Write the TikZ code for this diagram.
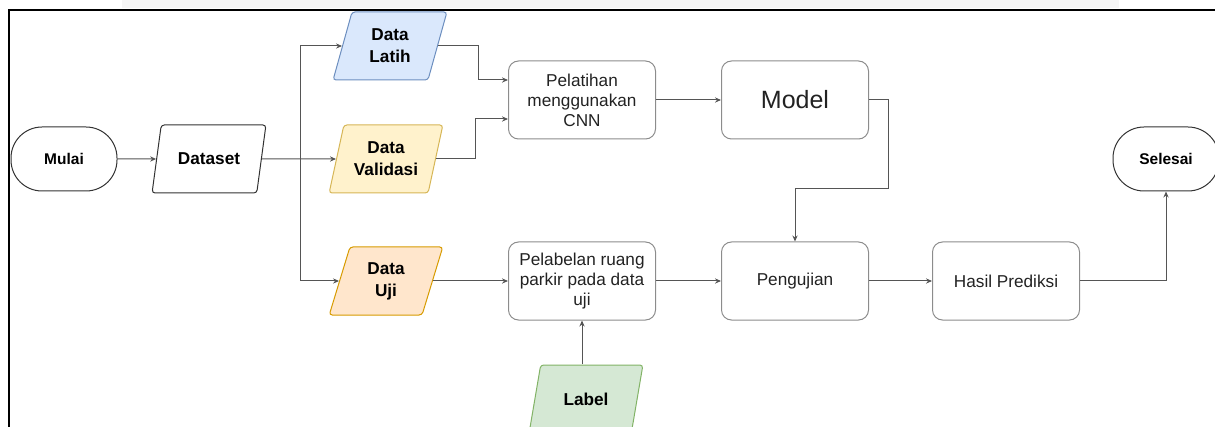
\documentclass[tikz,border=0pt]{standalone}
\usepackage{fontspec}
\setmainfont{Liberation Sans}
\usetikzlibrary{shapes.geometric,arrows.meta,calc}
\definecolor{lineg}{HTML}{555555}
\definecolor{boxg}{HTML}{8C8C8C}
\definecolor{txtg}{HTML}{222222}
\definecolor{bluef}{HTML}{DAE8FC}
\definecolor{blueb}{HTML}{6C8EBF}
\definecolor{yelf}{HTML}{FFF2CC}
\definecolor{yelb}{HTML}{D6B656}
\definecolor{oraf}{HTML}{FFE6CC}
\definecolor{orab}{HTML}{D79B00}
\definecolor{grnf}{HTML}{D5E8D4}
\definecolor{grnb}{HTML}{82B366}

\begin{document}
\begin{tikzpicture}[x=0.5pt,y=-0.5pt,
    >={Stealth[length=3pt,width=2.6pt]},
    conn/.style={draw=lineg,line width=0.5pt},
    term/.style={draw=black!80,line width=0.5pt,rounded corners=15.5pt,
        minimum width=53pt,minimum height=32pt,
        font=\fontsize{7.75}{9}\selectfont\bfseries},
    io/.style={trapezium,trapezium left angle=74,trapezium right angle=106,
        trapezium stretches=true,minimum width=57pt,minimum height=34pt,
        rounded corners=1.5pt,line width=0.5pt,align=center,
        font=\fontsize{8.6}{11}\selectfont\bfseries},
    proc/.style={draw=boxg,line width=0.5pt,rounded corners=5pt,
        minimum width=73.5pt,minimum height=39pt,align=center,text=txtg,
        font=\fontsize{8.6}{10}\selectfont}]
\useasboundingbox (0,0) rectangle (1215,427);
\fill[black!4] (122,0) rectangle (1119,8);
\draw[line width=1pt] (9,427) -- (9,10) -- (1215,10);

\node (mu) [term] at (64,159) {Mulai};
\node (ds) [io,draw=black!80] at (209,159) {Dataset};
\node (dl) [io,draw=blueb,fill=bluef] at (390,46) {Data\\Latih};
\node (dv) [io,draw=yelb,fill=yelf] at (386,159) {Data\\Validasi};
\node (du) [io,draw=orab,fill=oraf] at (386,281) {Data\\Uji};
\node (lb) [io,draw=grnb,fill=grnf] at (586,399) {Label};

\node (pl) [proc] at (582,100) {Pelatihan\\menggunakan\\CNN};
\node (md) [proc,font=\fontsize{12.5}{14}\selectfont] at (795,100) {Model};
\node (pb) [proc] at (582,281) {Pelabelan ruang\\parkir pada data\\uji};
\node (pg) [proc] at (795,281) {Pengujian};
\node (hp) [proc] at (1006,281) {Hasil Prediksi};
\node (sl) [term] at (1166,159) {Selesai};

\coordinate (sp) at (300,159);
\coordinate (pli) at ($(pl.west)+(0,-20)$);
\coordinate (plv) at ($(pl.west)+(0,19)$);

\draw[conn,->] (mu) -- (ds);
\draw[conn,->] (ds) -- (dv);
\draw[conn,->] (sp) |- (dl);
\draw[conn,->] (sp) |- (du);
\draw[conn,->] (dl.east) -| ($(pli)+(-30,0)$) -- (pli);
\draw[conn,->] (dv.east) -| ($(plv)+(-33,0)$) -- (plv);
\draw[conn,->] (pl) -- (md);
\draw[conn,->] (md.east) -- ++(19,0) |- ($(pg.north)+(0,-53)$) -- (pg.north);
\draw[conn,->] (du) -- (pb);
\draw[conn,->] (pb.south |- lb.north) -- (pb.south);
\draw[conn,->] (pb) -- (pg);
\draw[conn,->] (pg) -- (hp);
\draw[conn,->] (hp.east) -| (sl.south);
\end{tikzpicture}
\end{document}
